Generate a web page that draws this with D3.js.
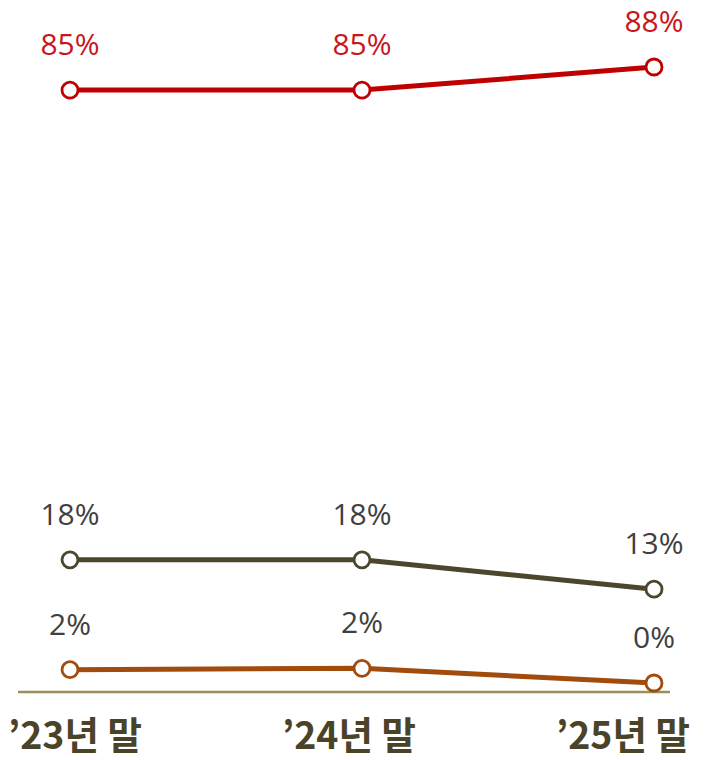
<!DOCTYPE html>
<html>
<head>
<meta charset="utf-8">
<style>
  body { margin: 0; background: #fff; }
</style>
</head>
<body>
<script src="https://d3js.org/d3.v7.min.js"></script>
<script>
// categories and series (percent)
var categories = ["\u201923년 말", "\u201924년 말", "\u201925년 말"];
var redValues = [84.7, 84.7, 88.0];
var darkValues = [17.6, 17.6, 13.4];
var orangeValues = [1.9, 2.1, 0.0];

var series = [
  { name: "red", values: redValues, line: "#c00000", label: "#c8161d" },
  { name: "dark", values: darkValues, line: "#4b462c", label: "#404040" },
  { name: "orange", values: orangeValues, line: "#a14b0d", label: "#404040" }
];

var width = 706, height = 760;

var svg = d3.select("body").append("svg")
            .attr("width", width)
            .attr("height", height);

// point positions
var x = d3.scalePoint().domain(categories).range([70, 654]);
// category labels sit on their own evenly spaced positions
var xLabel = d3.scalePoint().domain(categories).range([75, 623]);
var y = d3.scaleLinear().domain([0, 100]).range([683, -17]);

var fmt = d3.format(".0f");

// baseline
svg.append("line")
   .attr("x1", 18).attr("x2", 670)
   .attr("y1", 692).attr("y2", 692)
   .attr("stroke", "#9c8f5c")
   .attr("stroke-width", 2.5);

var line = d3.line()
             .x(function (d, i) { return x(categories[i]); })
             .y(function (d) { return y(d); });

series.forEach(function (s) {
  var g = svg.append("g");

  g.append("path")
   .datum(s.values)
   .attr("d", line)
   .attr("fill", "none")
   .attr("stroke", s.line)
   .attr("stroke-width", 5);

  g.selectAll("circle")
   .data(s.values)
   .enter()
   .append("circle")
   .attr("cx", function (d, i) { return x(categories[i]); })
   .attr("cy", function (d) { return y(d); })
   .attr("r", 8)
   .attr("fill", "#fff")
   .attr("stroke", s.line)
   .attr("stroke-width", 2.8);

  g.selectAll("text")
   .data(s.values)
   .enter()
   .append("text")
   .attr("x", function (d, i) { return x(categories[i]); })
   .attr("y", function (d) { return y(d) - 35; })
   .attr("text-anchor", "middle")
   .attr("font-family", "'Open Sans', 'Noto Sans', sans-serif")
   .attr("font-size", 30)
   .attr("fill", s.label)
   .text(function (d) { return fmt(d) + "%"; });
});

// category labels, squeezed horizontally like a condensed face
var cats = svg.selectAll(".cat")
   .data(categories)
   .enter()
   .append("text")
   .attr("class", "cat")
   .attr("text-anchor", "middle")
   .attr("font-family", "'Noto Sans CJK KR', sans-serif")
   .attr("font-weight", "bold")
   .attr("font-size", 38)
   .attr("fill", "#4a4328")
   .text(function (d) { return d; });

cats.attr("transform", function (d) {
  var w = this.getComputedTextLength();
  var k = Math.min(1, 134 / w);
  return "translate(" + xLabel(d) + ",749) scale(" + k + ",1)";
});
</script>
</body>
</html>
